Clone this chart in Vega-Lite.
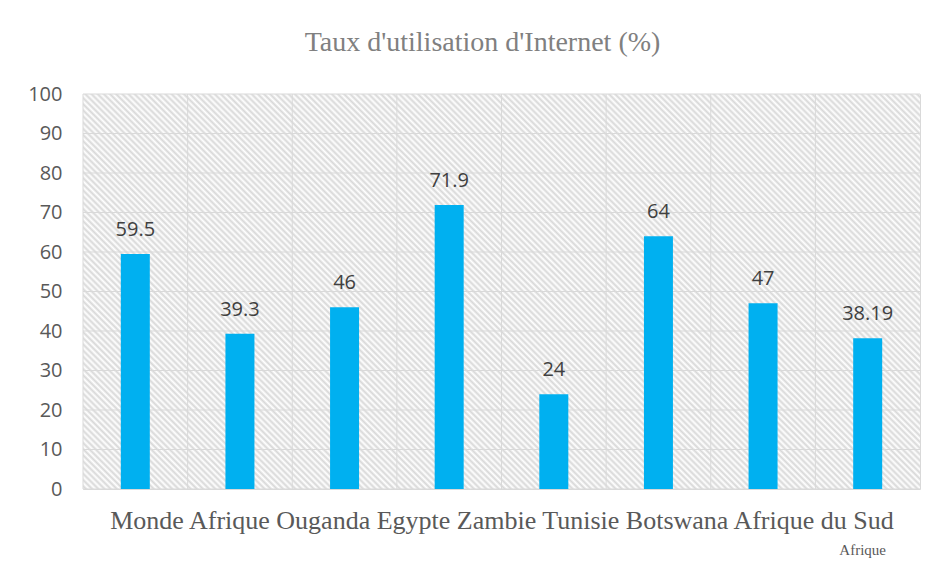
{
  "$schema": "https://vega.github.io/schema/vega-lite/v6.json",
  "width": 837,
  "height": 395,
  "autosize": {"type": "none"},
  "padding": {"left": 83, "top": 94, "right": 16, "bottom": 88},
  "background": "white",
  "title": {"text": "Taux d'utilisation d'Internet (%)", "font": "Liberation Serif", "fontSize": 28, "fontWeight": "normal", "color": "#808080", "anchor": "middle", "frame": "group", "baseline": "alphabetic", "offset": 5, "dx": -19},
  "config": {
    "view": {"stroke": "#d9d9d9", "strokeWidth": 1},
    "scale": {"bandPaddingInner": 0, "bandPaddingOuter": 0},
    "axisX": {"labels": false, "ticks": false, "domain": false, "grid": false, "titleFont": "Liberation Serif", "titleFontSize": 26, "titleFontWeight": "normal", "titleColor": "#595959", "titleBaseline": "alphabetic", "titlePadding": 39},
    "axisY": {"grid": false, "ticks": false, "tickSize": 0, "domain": false, "labelFont": "Open Sans", "labelFontSize": 20, "labelColor": "#595959", "labelPadding": 21, "tickCount": 11}
  },
  "data": {"values": [
    {"pays": "Monde", "v": 59.5},
    {"pays": "Afrique", "v": 39.3},
    {"pays": "Ouganda", "v": 46},
    {"pays": "Egypte", "v": 71.9},
    {"pays": "Zambie", "v": 24},
    {"pays": "Tunisie", "v": 64},
    {"pays": "Botswana", "v": 47},
    {"pays": "Afrique du Sud", "v": 38.19}
  ]},
  "layer": [
    {
      "data": {"values": [{}]},
      "mark": {"type": "rect", "fill": {"gradient": "linear", "x1": 0, "y1": 1, "x2": 1.2038, "y2": 0.4319, "stops": [
{"offset":0,"color":"#fff"},{"offset":0.0025,"color":"#d8d8d8"},{"offset":0.005,"color":"#fff"},{"offset":0.0075,"color":"#d8d8d8"},
{"offset":0.01,"color":"#fff"},{"offset":0.0125,"color":"#d8d8d8"},{"offset":0.015,"color":"#fff"},{"offset":0.0175,"color":"#d8d8d8"},
{"offset":0.02,"color":"#fff"},{"offset":0.0225,"color":"#d8d8d8"},{"offset":0.025,"color":"#fff"},{"offset":0.0275,"color":"#d8d8d8"},
{"offset":0.03,"color":"#fff"},{"offset":0.0325,"color":"#d8d8d8"},{"offset":0.035,"color":"#fff"},{"offset":0.0375,"color":"#d8d8d8"},
{"offset":0.04,"color":"#fff"},{"offset":0.0425,"color":"#d8d8d8"},{"offset":0.045,"color":"#fff"},{"offset":0.0475,"color":"#d8d8d8"},
{"offset":0.05,"color":"#fff"},{"offset":0.0525,"color":"#d8d8d8"},{"offset":0.055,"color":"#fff"},{"offset":0.0575,"color":"#d8d8d8"},
{"offset":0.06,"color":"#fff"},{"offset":0.0625,"color":"#d8d8d8"},{"offset":0.065,"color":"#fff"},{"offset":0.0675,"color":"#d8d8d8"},
{"offset":0.07,"color":"#fff"},{"offset":0.0725,"color":"#d8d8d8"},{"offset":0.075,"color":"#fff"},{"offset":0.0775,"color":"#d8d8d8"},
{"offset":0.08,"color":"#fff"},{"offset":0.0825,"color":"#d8d8d8"},{"offset":0.085,"color":"#fff"},{"offset":0.0875,"color":"#d8d8d8"},
{"offset":0.09,"color":"#fff"},{"offset":0.0925,"color":"#d8d8d8"},{"offset":0.095,"color":"#fff"},{"offset":0.0975,"color":"#d8d8d8"},
{"offset":0.1,"color":"#fff"},{"offset":0.1025,"color":"#d8d8d8"},{"offset":0.105,"color":"#fff"},{"offset":0.1075,"color":"#d8d8d8"},
{"offset":0.11,"color":"#fff"},{"offset":0.1125,"color":"#d8d8d8"},{"offset":0.115,"color":"#fff"},{"offset":0.1175,"color":"#d8d8d8"},
{"offset":0.12,"color":"#fff"},{"offset":0.1225,"color":"#d8d8d8"},{"offset":0.125,"color":"#fff"},{"offset":0.1275,"color":"#d8d8d8"},
{"offset":0.13,"color":"#fff"},{"offset":0.1325,"color":"#d8d8d8"},{"offset":0.135,"color":"#fff"},{"offset":0.1375,"color":"#d8d8d8"},
{"offset":0.14,"color":"#fff"},{"offset":0.1425,"color":"#d8d8d8"},{"offset":0.145,"color":"#fff"},{"offset":0.1475,"color":"#d8d8d8"},
{"offset":0.15,"color":"#fff"},{"offset":0.1525,"color":"#d8d8d8"},{"offset":0.155,"color":"#fff"},{"offset":0.1575,"color":"#d8d8d8"},
{"offset":0.16,"color":"#fff"},{"offset":0.1625,"color":"#d8d8d8"},{"offset":0.165,"color":"#fff"},{"offset":0.1675,"color":"#d8d8d8"},
{"offset":0.17,"color":"#fff"},{"offset":0.1725,"color":"#d8d8d8"},{"offset":0.175,"color":"#fff"},{"offset":0.1775,"color":"#d8d8d8"},
{"offset":0.18,"color":"#fff"},{"offset":0.1825,"color":"#d8d8d8"},{"offset":0.185,"color":"#fff"},{"offset":0.1875,"color":"#d8d8d8"},
{"offset":0.19,"color":"#fff"},{"offset":0.1925,"color":"#d8d8d8"},{"offset":0.195,"color":"#fff"},{"offset":0.1975,"color":"#d8d8d8"},
{"offset":0.2,"color":"#fff"},{"offset":0.2025,"color":"#d8d8d8"},{"offset":0.205,"color":"#fff"},{"offset":0.2075,"color":"#d8d8d8"},
{"offset":0.21,"color":"#fff"},{"offset":0.2125,"color":"#d8d8d8"},{"offset":0.215,"color":"#fff"},{"offset":0.2175,"color":"#d8d8d8"},
{"offset":0.22,"color":"#fff"},{"offset":0.2225,"color":"#d8d8d8"},{"offset":0.225,"color":"#fff"},{"offset":0.2275,"color":"#d8d8d8"},
{"offset":0.23,"color":"#fff"},{"offset":0.2325,"color":"#d8d8d8"},{"offset":0.235,"color":"#fff"},{"offset":0.2375,"color":"#d8d8d8"},
{"offset":0.24,"color":"#fff"},{"offset":0.2425,"color":"#d8d8d8"},{"offset":0.245,"color":"#fff"},{"offset":0.2475,"color":"#d8d8d8"},
{"offset":0.25,"color":"#fff"},{"offset":0.2525,"color":"#d8d8d8"},{"offset":0.255,"color":"#fff"},{"offset":0.2575,"color":"#d8d8d8"},
{"offset":0.26,"color":"#fff"},{"offset":0.2625,"color":"#d8d8d8"},{"offset":0.265,"color":"#fff"},{"offset":0.2675,"color":"#d8d8d8"},
{"offset":0.27,"color":"#fff"},{"offset":0.2725,"color":"#d8d8d8"},{"offset":0.275,"color":"#fff"},{"offset":0.2775,"color":"#d8d8d8"},
{"offset":0.28,"color":"#fff"},{"offset":0.2825,"color":"#d8d8d8"},{"offset":0.285,"color":"#fff"},{"offset":0.2875,"color":"#d8d8d8"},
{"offset":0.29,"color":"#fff"},{"offset":0.2925,"color":"#d8d8d8"},{"offset":0.295,"color":"#fff"},{"offset":0.2975,"color":"#d8d8d8"},
{"offset":0.3,"color":"#fff"},{"offset":0.3025,"color":"#d8d8d8"},{"offset":0.305,"color":"#fff"},{"offset":0.3075,"color":"#d8d8d8"},
{"offset":0.31,"color":"#fff"},{"offset":0.3125,"color":"#d8d8d8"},{"offset":0.315,"color":"#fff"},{"offset":0.3175,"color":"#d8d8d8"},
{"offset":0.32,"color":"#fff"},{"offset":0.3225,"color":"#d8d8d8"},{"offset":0.325,"color":"#fff"},{"offset":0.3275,"color":"#d8d8d8"},
{"offset":0.33,"color":"#fff"},{"offset":0.3325,"color":"#d8d8d8"},{"offset":0.335,"color":"#fff"},{"offset":0.3375,"color":"#d8d8d8"},
{"offset":0.34,"color":"#fff"},{"offset":0.3425,"color":"#d8d8d8"},{"offset":0.345,"color":"#fff"},{"offset":0.3475,"color":"#d8d8d8"},
{"offset":0.35,"color":"#fff"},{"offset":0.3525,"color":"#d8d8d8"},{"offset":0.355,"color":"#fff"},{"offset":0.3575,"color":"#d8d8d8"},
{"offset":0.36,"color":"#fff"},{"offset":0.3625,"color":"#d8d8d8"},{"offset":0.365,"color":"#fff"},{"offset":0.3675,"color":"#d8d8d8"},
{"offset":0.37,"color":"#fff"},{"offset":0.3725,"color":"#d8d8d8"},{"offset":0.375,"color":"#fff"},{"offset":0.3775,"color":"#d8d8d8"},
{"offset":0.38,"color":"#fff"},{"offset":0.3825,"color":"#d8d8d8"},{"offset":0.385,"color":"#fff"},{"offset":0.3875,"color":"#d8d8d8"},
{"offset":0.39,"color":"#fff"},{"offset":0.3925,"color":"#d8d8d8"},{"offset":0.395,"color":"#fff"},{"offset":0.3975,"color":"#d8d8d8"},
{"offset":0.4,"color":"#fff"},{"offset":0.4025,"color":"#d8d8d8"},{"offset":0.405,"color":"#fff"},{"offset":0.4075,"color":"#d8d8d8"},
{"offset":0.41,"color":"#fff"},{"offset":0.4125,"color":"#d8d8d8"},{"offset":0.415,"color":"#fff"},{"offset":0.4175,"color":"#d8d8d8"},
{"offset":0.42,"color":"#fff"},{"offset":0.4225,"color":"#d8d8d8"},{"offset":0.425,"color":"#fff"},{"offset":0.4275,"color":"#d8d8d8"},
{"offset":0.43,"color":"#fff"},{"offset":0.4325,"color":"#d8d8d8"},{"offset":0.435,"color":"#fff"},{"offset":0.4375,"color":"#d8d8d8"},
{"offset":0.44,"color":"#fff"},{"offset":0.4425,"color":"#d8d8d8"},{"offset":0.445,"color":"#fff"},{"offset":0.4475,"color":"#d8d8d8"},
{"offset":0.45,"color":"#fff"},{"offset":0.4525,"color":"#d8d8d8"},{"offset":0.455,"color":"#fff"},{"offset":0.4575,"color":"#d8d8d8"},
{"offset":0.46,"color":"#fff"},{"offset":0.4625,"color":"#d8d8d8"},{"offset":0.465,"color":"#fff"},{"offset":0.4675,"color":"#d8d8d8"},
{"offset":0.47,"color":"#fff"},{"offset":0.4725,"color":"#d8d8d8"},{"offset":0.475,"color":"#fff"},{"offset":0.4775,"color":"#d8d8d8"},
{"offset":0.48,"color":"#fff"},{"offset":0.4825,"color":"#d8d8d8"},{"offset":0.485,"color":"#fff"},{"offset":0.4875,"color":"#d8d8d8"},
{"offset":0.49,"color":"#fff"},{"offset":0.4925,"color":"#d8d8d8"},{"offset":0.495,"color":"#fff"},{"offset":0.4975,"color":"#d8d8d8"},
{"offset":0.5,"color":"#fff"},{"offset":0.5025,"color":"#d8d8d8"},{"offset":0.505,"color":"#fff"},{"offset":0.5075,"color":"#d8d8d8"},
{"offset":0.51,"color":"#fff"},{"offset":0.5125,"color":"#d8d8d8"},{"offset":0.515,"color":"#fff"},{"offset":0.5175,"color":"#d8d8d8"},
{"offset":0.52,"color":"#fff"},{"offset":0.5225,"color":"#d8d8d8"},{"offset":0.525,"color":"#fff"},{"offset":0.5275,"color":"#d8d8d8"},
{"offset":0.53,"color":"#fff"},{"offset":0.5325,"color":"#d8d8d8"},{"offset":0.535,"color":"#fff"},{"offset":0.5375,"color":"#d8d8d8"},
{"offset":0.54,"color":"#fff"},{"offset":0.5425,"color":"#d8d8d8"},{"offset":0.545,"color":"#fff"},{"offset":0.5475,"color":"#d8d8d8"},
{"offset":0.55,"color":"#fff"},{"offset":0.5525,"color":"#d8d8d8"},{"offset":0.555,"color":"#fff"},{"offset":0.5575,"color":"#d8d8d8"},
{"offset":0.56,"color":"#fff"},{"offset":0.5625,"color":"#d8d8d8"},{"offset":0.565,"color":"#fff"},{"offset":0.5675,"color":"#d8d8d8"},
{"offset":0.57,"color":"#fff"},{"offset":0.5725,"color":"#d8d8d8"},{"offset":0.575,"color":"#fff"},{"offset":0.5775,"color":"#d8d8d8"},
{"offset":0.58,"color":"#fff"},{"offset":0.5825,"color":"#d8d8d8"},{"offset":0.585,"color":"#fff"},{"offset":0.5875,"color":"#d8d8d8"},
{"offset":0.59,"color":"#fff"},{"offset":0.5925,"color":"#d8d8d8"},{"offset":0.595,"color":"#fff"},{"offset":0.5975,"color":"#d8d8d8"},
{"offset":0.6,"color":"#fff"},{"offset":0.6025,"color":"#d8d8d8"},{"offset":0.605,"color":"#fff"},{"offset":0.6075,"color":"#d8d8d8"},
{"offset":0.61,"color":"#fff"},{"offset":0.6125,"color":"#d8d8d8"},{"offset":0.615,"color":"#fff"},{"offset":0.6175,"color":"#d8d8d8"},
{"offset":0.62,"color":"#fff"},{"offset":0.6225,"color":"#d8d8d8"},{"offset":0.625,"color":"#fff"},{"offset":0.6275,"color":"#d8d8d8"},
{"offset":0.63,"color":"#fff"},{"offset":0.6325,"color":"#d8d8d8"},{"offset":0.635,"color":"#fff"},{"offset":0.6375,"color":"#d8d8d8"},
{"offset":0.64,"color":"#fff"},{"offset":0.6425,"color":"#d8d8d8"},{"offset":0.645,"color":"#fff"},{"offset":0.6475,"color":"#d8d8d8"},
{"offset":0.65,"color":"#fff"},{"offset":0.6525,"color":"#d8d8d8"},{"offset":0.655,"color":"#fff"},{"offset":0.6575,"color":"#d8d8d8"},
{"offset":0.66,"color":"#fff"},{"offset":0.6625,"color":"#d8d8d8"},{"offset":0.665,"color":"#fff"},{"offset":0.6675,"color":"#d8d8d8"},
{"offset":0.67,"color":"#fff"},{"offset":0.6725,"color":"#d8d8d8"},{"offset":0.675,"color":"#fff"},{"offset":0.6775,"color":"#d8d8d8"},
{"offset":0.68,"color":"#fff"},{"offset":0.6825,"color":"#d8d8d8"},{"offset":0.685,"color":"#fff"},{"offset":0.6875,"color":"#d8d8d8"},
{"offset":0.69,"color":"#fff"},{"offset":0.6925,"color":"#d8d8d8"},{"offset":0.695,"color":"#fff"},{"offset":0.6975,"color":"#d8d8d8"},
{"offset":0.7,"color":"#fff"},{"offset":0.7025,"color":"#d8d8d8"},{"offset":0.705,"color":"#fff"},{"offset":0.7075,"color":"#d8d8d8"},
{"offset":0.71,"color":"#fff"},{"offset":0.7125,"color":"#d8d8d8"},{"offset":0.715,"color":"#fff"},{"offset":0.7175,"color":"#d8d8d8"},
{"offset":0.72,"color":"#fff"},{"offset":0.7225,"color":"#d8d8d8"},{"offset":0.725,"color":"#fff"},{"offset":0.7275,"color":"#d8d8d8"},
{"offset":0.73,"color":"#fff"},{"offset":0.7325,"color":"#d8d8d8"},{"offset":0.735,"color":"#fff"},{"offset":0.7375,"color":"#d8d8d8"},
{"offset":0.74,"color":"#fff"},{"offset":0.7425,"color":"#d8d8d8"},{"offset":0.745,"color":"#fff"},{"offset":0.7475,"color":"#d8d8d8"},
{"offset":0.75,"color":"#fff"},{"offset":0.7525,"color":"#d8d8d8"},{"offset":0.755,"color":"#fff"},{"offset":0.7575,"color":"#d8d8d8"},
{"offset":0.76,"color":"#fff"},{"offset":0.7625,"color":"#d8d8d8"},{"offset":0.765,"color":"#fff"},{"offset":0.7675,"color":"#d8d8d8"},
{"offset":0.77,"color":"#fff"},{"offset":0.7725,"color":"#d8d8d8"},{"offset":0.775,"color":"#fff"},{"offset":0.7775,"color":"#d8d8d8"},
{"offset":0.78,"color":"#fff"},{"offset":0.7825,"color":"#d8d8d8"},{"offset":0.785,"color":"#fff"},{"offset":0.7875,"color":"#d8d8d8"},
{"offset":0.79,"color":"#fff"},{"offset":0.7925,"color":"#d8d8d8"},{"offset":0.795,"color":"#fff"},{"offset":0.7975,"color":"#d8d8d8"},
{"offset":0.8,"color":"#fff"},{"offset":0.8025,"color":"#d8d8d8"},{"offset":0.805,"color":"#fff"},{"offset":0.8075,"color":"#d8d8d8"},
{"offset":0.81,"color":"#fff"},{"offset":0.8125,"color":"#d8d8d8"},{"offset":0.815,"color":"#fff"},{"offset":0.8175,"color":"#d8d8d8"},
{"offset":0.82,"color":"#fff"},{"offset":0.8225,"color":"#d8d8d8"},{"offset":0.825,"color":"#fff"},{"offset":0.8275,"color":"#d8d8d8"},
{"offset":0.83,"color":"#fff"},{"offset":0.8325,"color":"#d8d8d8"},{"offset":0.835,"color":"#fff"},{"offset":0.8375,"color":"#d8d8d8"},
{"offset":0.84,"color":"#fff"},{"offset":0.8425,"color":"#d8d8d8"},{"offset":0.845,"color":"#fff"},{"offset":0.8475,"color":"#d8d8d8"},
{"offset":0.85,"color":"#fff"},{"offset":0.8525,"color":"#d8d8d8"},{"offset":0.855,"color":"#fff"},{"offset":0.8575,"color":"#d8d8d8"},
{"offset":0.86,"color":"#fff"},{"offset":0.8625,"color":"#d8d8d8"},{"offset":0.865,"color":"#fff"},{"offset":0.8675,"color":"#d8d8d8"},
{"offset":0.87,"color":"#fff"},{"offset":0.8725,"color":"#d8d8d8"},{"offset":0.875,"color":"#fff"},{"offset":0.8775,"color":"#d8d8d8"},
{"offset":0.88,"color":"#fff"},{"offset":0.8825,"color":"#d8d8d8"},{"offset":0.885,"color":"#fff"},{"offset":0.8875,"color":"#d8d8d8"},
{"offset":0.89,"color":"#fff"},{"offset":0.8925,"color":"#d8d8d8"},{"offset":0.895,"color":"#fff"},{"offset":0.8975,"color":"#d8d8d8"},
{"offset":0.9,"color":"#fff"},{"offset":0.9025,"color":"#d8d8d8"},{"offset":0.905,"color":"#fff"},{"offset":0.9075,"color":"#d8d8d8"},
{"offset":0.91,"color":"#fff"},{"offset":0.9125,"color":"#d8d8d8"},{"offset":0.915,"color":"#fff"},{"offset":0.9175,"color":"#d8d8d8"},
{"offset":0.92,"color":"#fff"},{"offset":0.9225,"color":"#d8d8d8"},{"offset":0.925,"color":"#fff"},{"offset":0.9275,"color":"#d8d8d8"},
{"offset":0.93,"color":"#fff"},{"offset":0.9325,"color":"#d8d8d8"},{"offset":0.935,"color":"#fff"},{"offset":0.9375,"color":"#d8d8d8"},
{"offset":0.94,"color":"#fff"},{"offset":0.9425,"color":"#d8d8d8"},{"offset":0.945,"color":"#fff"},{"offset":0.9475,"color":"#d8d8d8"},
{"offset":0.95,"color":"#fff"},{"offset":0.9525,"color":"#d8d8d8"},{"offset":0.955,"color":"#fff"},{"offset":0.9575,"color":"#d8d8d8"},
{"offset":0.96,"color":"#fff"},{"offset":0.9625,"color":"#d8d8d8"},{"offset":0.965,"color":"#fff"},{"offset":0.9675,"color":"#d8d8d8"},
{"offset":0.97,"color":"#fff"},{"offset":0.9725,"color":"#d8d8d8"},{"offset":0.975,"color":"#fff"},{"offset":0.9775,"color":"#d8d8d8"},
{"offset":0.98,"color":"#fff"},{"offset":0.9825,"color":"#d8d8d8"},{"offset":0.985,"color":"#fff"},{"offset":0.9875,"color":"#d8d8d8"},
{"offset":0.99,"color":"#fff"},{"offset":0.9925,"color":"#d8d8d8"},{"offset":0.995,"color":"#fff"},{"offset":0.9975,"color":"#d8d8d8"},
{"offset":1,"color":"#fff"}
      ]}},
      "encoding": {
        "x": {"value": 0},
        "x2": {"value": "width"},
        "y": {"datum": 0, "type": "quantitative", "title": null, "scale": {"domain": [0, 100], "nice": false}},
        "y2": {"datum": 100}
      }
    },
    {
      "data": {"values": [{"g": 0}, {"g": 10}, {"g": 20}, {"g": 30}, {"g": 40}, {"g": 50}, {"g": 60}, {"g": 70}, {"g": 80}, {"g": 90}, {"g": 100}]},
      "mark": {"type": "rule", "color": "#d9d9d9", "strokeWidth": 1},
      "encoding": {
        "y": {"field": "g", "type": "quantitative", "title": null}
      }
    },
    {
      "mark": {"type": "rule", "color": "#d9d9d9", "strokeWidth": 1},
      "encoding": {
        "x": {"field": "pays", "type": "nominal", "sort": null, "bandPosition": 0, "title": "Monde Afrique Ouganda Egypte Zambie Tunisie Botswana Afrique du Sud", "scale": {"type": "band", "paddingInner": 0, "paddingOuter": 0}}
      }
    },
    {
      "mark": {"type": "bar", "color": "#00b0f0", "width": 29},
      "encoding": {
        "x": {"field": "pays", "type": "nominal", "sort": null, "title": "Monde Afrique Ouganda Egypte Zambie Tunisie Botswana Afrique du Sud", "scale": {"type": "band", "paddingInner": 0, "paddingOuter": 0}},
        "y": {"field": "v", "type": "quantitative", "title": null}
      }
    },
    {
      "mark": {"type": "text", "font": "Open Sans", "fontSize": 20, "color": "#404040", "baseline": "alphabetic", "align": "center", "dy": -18},
      "encoding": {
        "x": {"field": "pays", "type": "nominal", "sort": null, "title": "Monde Afrique Ouganda Egypte Zambie Tunisie Botswana Afrique du Sud"},
        "y": {"field": "v", "type": "quantitative", "title": null},
        "text": {"field": "v", "type": "quantitative"}
      }
    },
    {
      "transform": [{"filter": "datum.pays === 'Afrique du Sud'"}],
      "mark": {"type": "text", "font": "Liberation Serif", "fontSize": 15, "color": "#595959", "baseline": "alphabetic", "align": "center", "dy": 66, "dx": -5},
      "encoding": {
        "x": {"field": "pays", "type": "nominal", "sort": null, "title": "Monde Afrique Ouganda Egypte Zambie Tunisie Botswana Afrique du Sud"},
        "y": {"datum": 0, "type": "quantitative", "title": null},
        "text": {"value": "Afrique"}
      }
    }
  ]
}
